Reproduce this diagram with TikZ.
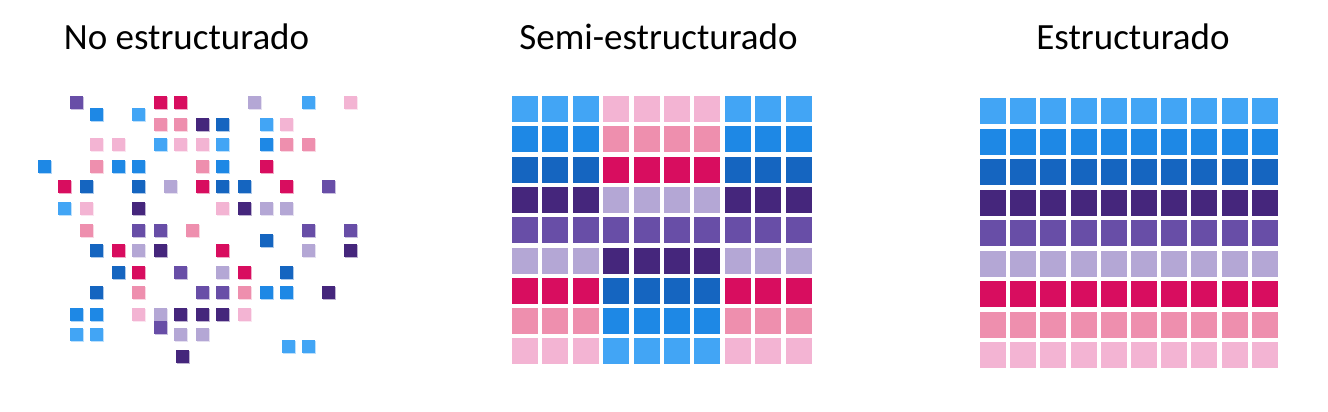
\documentclass[tikz,border=0pt]{standalone}
\usepackage{fontspec}
\setmainfont{Carlito}
\usepackage{xcolor}
\usepackage{tikz}

\definecolor{lb}{HTML}{42A5F5}
\definecolor{bl}{HTML}{1E88E5}
\definecolor{db}{HTML}{1565C0}
\definecolor{dp}{HTML}{45267C}
\definecolor{pu}{HTML}{684EA7}
\definecolor{lp}{HTML}{B4A7D5}
\definecolor{mg}{HTML}{D80D5F}
\definecolor{pk}{HTML}{EE8FAE}
\definecolor{lpk}{HTML}{F3B4D3}

\begin{document}
\begin{tikzpicture}[
      x = 1pt, y = -1pt,
      title/.style = {font = \fontsize{37}{42}\selectfont, anchor = base, inner sep = 0pt},
      shade/.style = {opacity = .35}
    ]

  \useasboundingbox (0,0) rectangle (1328,412);

  % titles ----------------------------------------------------------------
  \node[title] (tno)   at (186.5,49) {No estructurado};
  \node[title] (tsemi) at (658.5,49) {Semi-estructurado};
  \node[title] (test)  at (1133,49)  {Estructurado};

  % unstructured: scattered squares -----------------------------------------
  \foreach \x/\y/\c in {
      70/96/pu, 154/96/mg, 174/96/mg, 248/96/lp, 302/96/lb, 344/96/lpk,
      90/108/bl, 132/108/lb,
      154/118/pk, 174/118/pk, 196/118/dp, 216/118/db, 260/118/lb, 280/118/lpk,
      90/138/lpk, 112/138/lpk, 154/138/lb, 174/138/lpk, 196/138/lpk, 216/138/lb,
      260/138/bl, 280/138/pk, 302/138/pk,
      38/160/bl, 90/160/pk, 112/160/bl, 132/160/bl, 196/160/pk, 216/160/bl, 260/160/mg,
      58/180/mg, 80/180/db, 132/180/db, 164/180/lp, 196/180/mg, 216/180/db,
      238/180/db, 280/180/mg, 322/180/pu,
      58/202/lb, 80/202/lpk, 132/202/dp, 216/202/lpk, 238/202/dp, 260/202/lp, 280/202/lp,
      80/224/pk, 132/224/pu, 154/224/pu, 186/224/pk, 302/224/pu, 344/224/pu,
      260/234/db,
      90/244/db, 112/244/mg, 132/244/lp, 154/244/dp, 216/244/mg, 302/244/lp, 344/244/dp,
      112/266/db, 132/266/mg, 174/266/pu, 216/266/lp, 238/266/mg, 280/266/db,
      90/286/db, 132/286/pk, 196/286/pu, 216/286/pu, 238/286/pk, 260/286/bl,
      280/286/bl, 322/286/dp,
      70/308/bl, 90/308/bl, 132/308/lpk, 154/308/lp, 174/308/dp, 196/308/dp,
      216/308/dp, 238/308/lpk,
      154/321/pu,
      70/328/lb, 90/328/lb, 174/328/lp, 196/328/lp,
      282/340/lb, 302/340/lb,
      176/350/dp}
  {
    \fill[\c, shade] (\x+1,\y+1) rectangle ++(13,13);
    \fill[\c] (\x,\y) rectangle ++(13,13);
  }

  % semi-structured: outer and inner blocks ---------------------------------
  \foreach \oc/\ic [count = \r from 0] in
      {lb/lpk, bl/pk, db/mg, dp/lp, pu/pu, lp/dp, mg/db, pk/bl, lpk/lb}
  {
    \foreach \k in {0,1,2,7,8,9}
      \fill[\oc] ({512+\k*30.4},{96+\r*30.3}) rectangle ++(26,26);
    \foreach \k in {3,...,6}
      \fill[\ic] ({512+\k*30.4},{96+\r*30.3}) rectangle ++(26,26);
  }

  % structured: one colour per row -----------------------------------------
  \foreach \rc [count = \r from 0] in {lb, bl, db, dp, pu, lp, mg, pk, lpk}
    \foreach \k in {0,...,9}
      \fill[\rc] ({980+\k*30.2},{98+\r*30.5}) rectangle ++(26,26);

\end{tikzpicture}
\end{document}
